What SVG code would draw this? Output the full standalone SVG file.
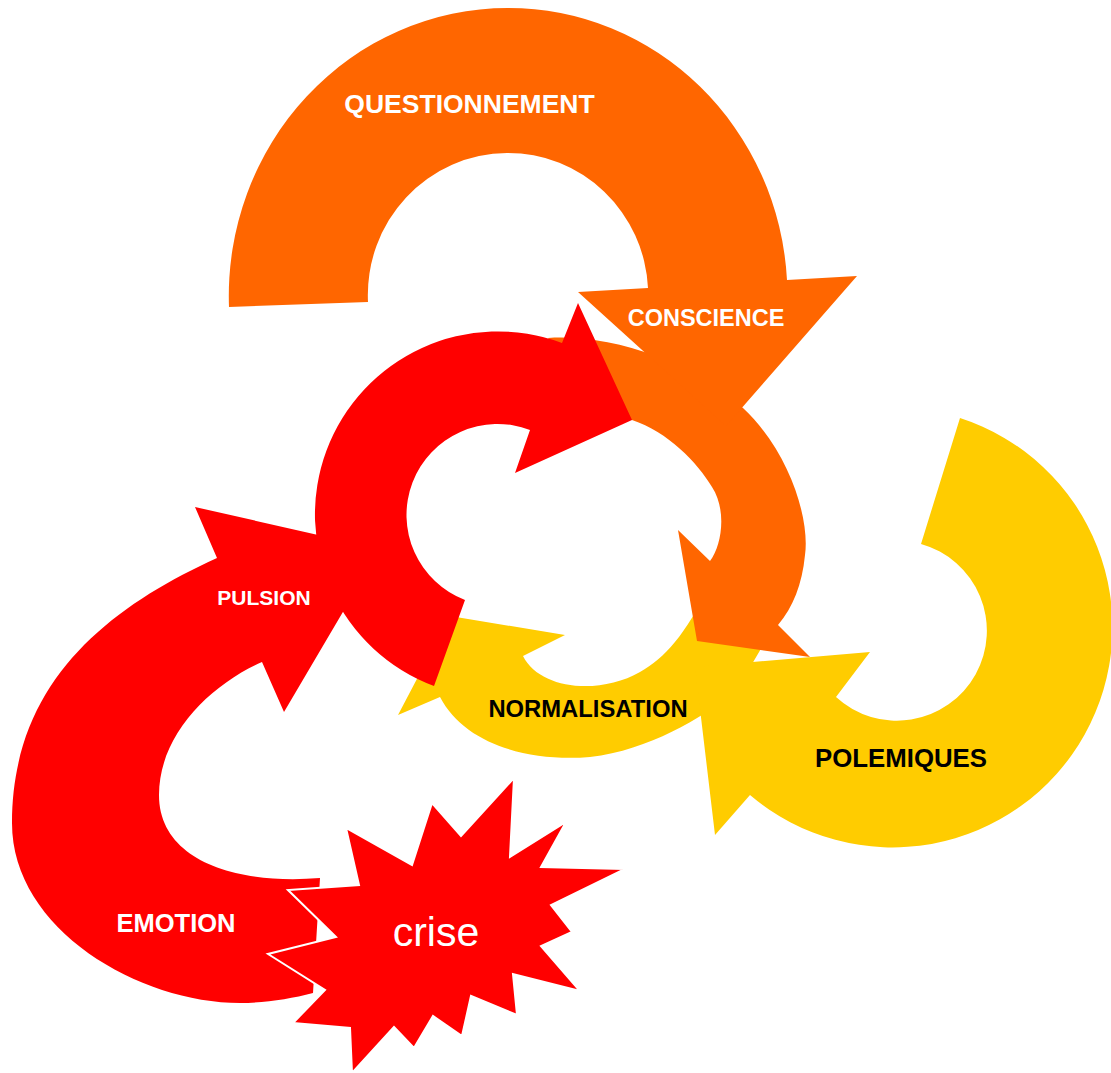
<svg xmlns="http://www.w3.org/2000/svg" width="1111" height="1073" viewBox="0 0 1111 1073">
<style>
.orange{fill:#FF6600;stroke:none}
.red{fill:#FF0000;stroke:none}
.yellow{fill:#FFCC00;stroke:none}
.star{fill:#FF0000;stroke:#FFFFFF;stroke-width:2;stroke-linejoin:miter}
.lbl{font-family:"Liberation Sans",Arial,sans-serif;font-weight:bold;text-anchor:middle}
.w{fill:#FFFFFF}
.k{fill:#000000}
.crise{font-family:"Liberation Sans",Arial,sans-serif;font-weight:normal;text-anchor:middle;fill:#FFFFFF}
</style>
<rect width="1111" height="1073" fill="#FFFFFF"/>
<g id="connectors">
<g id="arrow-normalisation">
<path class="yellow" d="M710,585 L762,647 L735,693 C700,718 650,750 590,757 C530,762 465,745 440,697 L398,715 L450,616 L565,635 L523,656 C540,690 600,695 640,672 C665,658 685,635 710,585 Z"/>
</g>
<g id="arrow-polemiques">
<path class="yellow" d="M960,418 A220,220 0 1 1 750,795 L715,835 L695,667 L870,652 L836,697 A90,90 0 1 0 921,544 Z"/>
</g>
<g id="arrow-conscience">
<path class="orange" d="M548,338 C610,334 690,360 743,408 C790,452 810,520 805,555 C802,585 793,607 778,625 L810,657 L697,641 L678,530 L710,561 C722,545 727,510 712,487 C697,462 668,432 632,420 L600,418 Z"/>
</g>
<g id="arrow-questionnement">
<path class="orange" d="M229,307 A279,288 0 0 1 508,8 A279,288 0 0 1 787,280 L857,276 L726,426 L578,292 L648,288 A140,142 0 0 0 507,153 A140,142 0 0 0 368,302 Z"/>
</g>
<g id="arrow-pulsion">
<path class="red" d="M434,686 A180,180 0 1 1 562,343 L578,303 L632,420 L515,473 L530,430 A90,90 0 1 0 465,600 Z"/>
</g>
<g id="arrow-emotion">
<path class="red" d="M217,558 C107,608 12,683 12,823 C12,930 140,1003 240,1003 C265,1003 290,999 313,993 L320,878 C235,885 159,860 159,795 C159,735 210,685 262,662 L284,712 L380,549 L195,507 Z"/>
</g>
</g>
<g id="node-crise">
<polygon class="star" points="346,828 412,865 432,803 461,836 514,778 510,857 566,822 541,867 625,869 551,905 572,932 541,946 580,991 513,974 517,1015 471,996 462,1036 433,1016 414,1048 394,1027 352,1073 350,1028 293,1023 325,990 268,954 336,937 288,890 359,885"/>
<text class="crise" x="436" y="946" font-size="41">crise</text>
</g>
<g id="labels">
<text class="lbl w" x="469.5" y="113" font-size="26.5">QUESTIONNEMENT</text>
<text class="lbl w" x="706" y="326" font-size="23.5">CONSCIENCE</text>
<text class="lbl w" x="264" y="605" font-size="21">PULSION</text>
<text class="lbl w" x="176" y="932" font-size="25.5">EMOTION</text>
<text class="lbl k" x="588" y="717" font-size="23.8">NORMALISATION</text>
<text class="lbl k" x="901" y="767" font-size="25.8">POLEMIQUES</text>
</g>
</svg>
